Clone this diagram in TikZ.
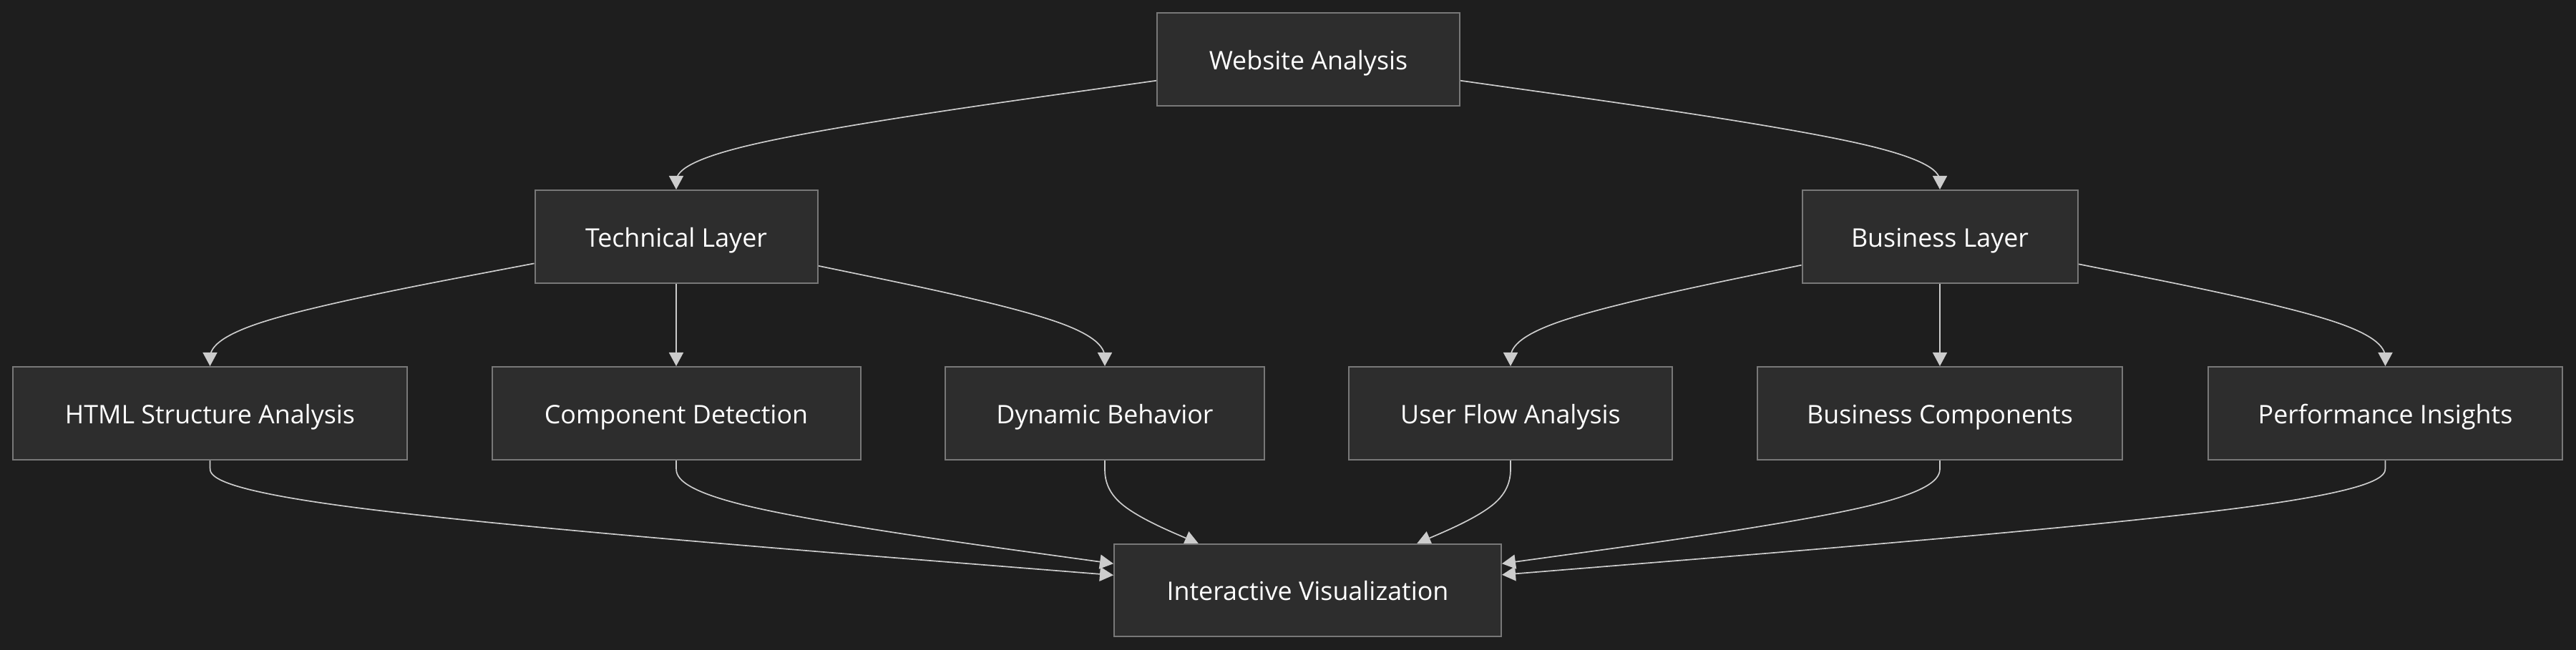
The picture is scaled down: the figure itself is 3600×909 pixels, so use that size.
\documentclass[tikz,border=0pt]{standalone}
\usepackage{fontspec}
\setmainfont{Open Sans}
\usetikzlibrary{arrows.meta,calc}
\definecolor{bgc}{HTML}{1E1E1E}
\definecolor{nodefill}{HTML}{2D2D2D}
\definecolor{nodeborder}{HTML}{787878}
\definecolor{edgec}{HTML}{CCCCCC}
\pgfdeclarelayer{bg}
\pgfdeclarelayer{edges}
\pgfsetlayers{bg,edges,main}
\newcommand\bsedge[4]{%
  \path (#2) -- (#1) coordinate[pos=1] (#4s);
  \path (#2) -- (#3) coordinate[pos=1] (#4t);
  \draw[edge] (#4s) -- ($(#4s)!0.1666667!(#2)$)
    .. controls ($(#4s)!0.3333333!(#2)$) and ($(#4s)!0.6666667!(#2)$)
    .. ($0.1666667*(#4s)+0.6666667*(#2)+0.1666667*(#4t)$)
    .. controls ($(#2)!0.3333333!(#4t)$) and ($(#2)!0.6666667!(#4t)$)
    .. ($(#2)!0.8333333!(#4t)$) -- (#4t);
}
\begin{document}
\begin{tikzpicture}[x=1pt,y=1pt,
  box/.style={draw=nodeborder, line width=2pt, fill=nodefill, text=white,
    font=\fontsize{35.8}{42}\selectfont, minimum height=130pt, inner sep=0pt,
    text height=28.6pt, text depth=0pt},
  edge/.style={draw=edgec, line width=1.7pt, -{Triangle[length=19pt,width=20pt]}},
]
\begin{pgfonlayer}{bg}
\fill[bgc] (0,0) rectangle (3600,909);
\end{pgfonlayer}
\path[use as bounding box] (0,0) rectangle (3600,909);

\node[box, minimum width=423pt] (wa) at (1828.5,826) {Website Analysis};
\node[box, minimum width=395pt] (tech) at (945,578) {Technical Layer};
\node[box, minimum width=385pt] (bus) at (2711,578) {Business Layer};
\node[box, minimum width=551pt] (html) at (293.5,331) {HTML Structure Analysis};
\node[box, minimum width=515pt] (comp) at (945,331) {Component Detection};
\node[box, minimum width=446pt] (dyn) at (1544,331) {Dynamic Behavior};
\node[box, minimum width=452pt] (user) at (2111,331) {User Flow Analysis};
\node[box, minimum width=510pt] (bcomp) at (2711,331) {Business Components};
\node[box, minimum width=495pt] (perf) at (3333.5,331) {Performance Insights};
\node[box, minimum width=541pt, minimum height=129pt] (iv) at (1827.5,83.5) {Interactive Visualization};

\coordinate (m1) at (tech |- 0,702);
\coordinate (m2) at (bus |- 0,702);
\coordinate (m3) at (html |- 0,454.5);
\coordinate (m5) at (dyn |- 0,454.5);
\coordinate (m6) at (user |- 0,454.5);
\coordinate (m8) at (perf |- 0,454.5);
\coordinate (m9) at (html |- 0,205);
\coordinate (m10) at (comp |- 0,205);
\coordinate (m11) at (dyn |- 0,205);
\coordinate (m12) at (user |- 0,205);
\coordinate (m13) at (bcomp |- 0,205);
\coordinate (m14) at (perf |- 0,205);

\begin{pgfonlayer}{edges}
\bsedge{wa}{m1}{tech}{ea}
\bsedge{wa}{m2}{bus}{eb}
\bsedge{tech}{m3}{html}{ec}
\draw[edge] (tech) -- (comp);
\bsedge{tech}{m5}{dyn}{ed}
\bsedge{bus}{m6}{user}{ee}
\draw[edge] (bus) -- (bcomp);
\bsedge{bus}{m8}{perf}{ef}
\bsedge{html}{m9}{iv}{eg}
\bsedge{comp}{m10}{iv}{eh}
\bsedge{dyn}{m11}{iv}{ei}
\bsedge{user}{m12}{iv}{ej}
\bsedge{bcomp}{m13}{iv}{ek}
\bsedge{perf}{m14}{iv}{el}
\end{pgfonlayer}
\end{tikzpicture}
\end{document}
